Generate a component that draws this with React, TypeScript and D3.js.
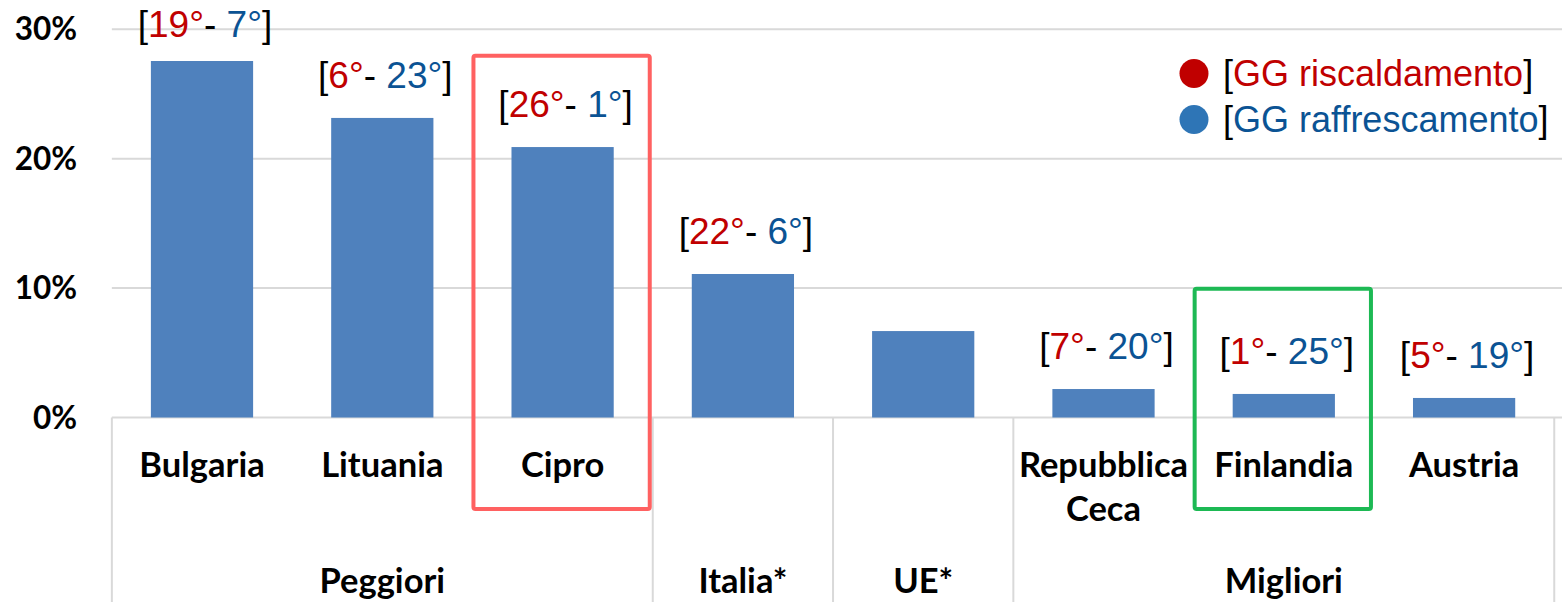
import React from "react";
import * as d3 from "d3";

const categories = ["Bulgaria", "Lituania", "Cipro", "Italia*", "UE*", "Repubblica Ceca", "Finlandia", "Austria"];
const values = [27.55, 23.15, 20.9, 11.09, 6.68, 2.2, 1.82, 1.51];
const heatingRank: (number | null)[] = [19, 6, 26, 22, null, 7, 1, 5];
const coolingRank: (number | null)[] = [7, 23, 1, 6, null, 20, 25, 19];
const groupNames = ["Peggiori", "Italia*", "UE*", "Migliori"];
const groupSizes = [3, 1, 1, 3];
const yTicks = [0, 10, 20, 30];
const legendItems = ["GG riscaldamento", "GG raffrescamento"];
const highlightWorst = "Cipro";
const highlightBest = "Finlandia";

const W = 1562;
const H = 602;
const RED = "#C00000";
const BLUE = "#0B5394";
const BAR = "#4F81BD";
const GRID = "#D9D9D9";
const CAT_FONT = "Lato, 'Open Sans', sans-serif";
const LBL_FONT = "'Liberation Sans', Arial, sans-serif";

export default function App() {
  const x = d3.scaleBand<string>().domain(categories).range([111.85, 1554.25]).padding(0);
  const y = d3.scaleLinear().domain([0, 30]).range([417.5, 29.3]);
  const bw = x.bandwidth();
  const barW = bw * 0.567;

  let acc = 0;
  const groups = groupNames.map((name, i) => {
    const start = acc;
    acc += groupSizes[i];
    const x0 = x(categories[start])!;
    const x1 = x(categories[start + groupSizes[i] - 1])! + bw;
    return { name, start, size: groupSizes[i], x0, x1 };
  });
  const showLevel1 = new Set<number>();
  groups.forEach((g) => {
    if (g.size > 1) for (let k = g.start; k < g.start + g.size; k++) showLevel1.add(k);
  });
  const separators = [groups[0].x0, ...groups.map((g) => g.x1)];

  const boxes = [
    { cat: highlightWorst, top: y(27.95), color: "#FF6161" },
    { cat: highlightBest, top: y(9.95), color: "#1DB954" },
  ];

  return (
    <svg width={W} height={H} style={{ position: "absolute", left: 0, top: 0, background: "#fff" }}>
      {yTicks.map((t) => (
        <line key={"g" + t} x1={x.range()[0]} x2={W} y1={y(t)} y2={y(t)} stroke={GRID} strokeWidth={2} />
      ))}
      {yTicks.map((t) => (
        <text key={"t" + t} x={77} y={y(t) + 11} textAnchor="end" fontFamily={CAT_FONT} fontWeight={700} fontSize={31.5} fill="#000">
          {t + "%"}
        </text>
      ))}
      {categories.map((c, i) => (
        <rect key={"b" + c} x={x(c)! + (bw - barW) / 2} y={y(values[i])} width={barW} height={y(0) - y(values[i])} fill={BAR} />
      ))}
      {separators.map((sx, i) => (
        <line key={"s" + i} x1={sx} x2={sx} y1={y(0)} y2={H} stroke={GRID} strokeWidth={2} />
      ))}
      {categories.map((c, i) => {
        if (!showLevel1.has(i)) return null;
        const words = c.length > 10 ? c.split(" ") : [c];
        return (
          <text key={"l1" + c} x={x(c)! + bw / 2} y={477} textAnchor="middle" fontFamily={CAT_FONT} fontWeight={700} fontSize={34.5} fill="#000">
            {words.map((w, k) => (
              <tspan key={k} x={x(c)! + bw / 2} dy={k === 0 ? 0 : 44}>
                {w}
              </tspan>
            ))}
          </text>
        );
      })}
      {groups.map((g) => (
        <text key={"l2" + g.name} x={(g.x0 + g.x1) / 2} y={593} textAnchor="middle" fontFamily={CAT_FONT} fontWeight={700} fontSize={34.5} fill="#000">
          {g.name}
        </text>
      ))}
      {categories.map((c, i) => {
        if (heatingRank[i] == null) return null;
        return (
          <text key={"r" + c} x={x(c)! + bw / 2 + 3} y={Math.max(y(values[i]) - 30, 37)} textAnchor="middle" fontFamily={LBL_FONT} fontSize={37} fill="#000">
            <tspan>[</tspan>
            <tspan fill={RED}>{heatingRank[i] + "°"}</tspan>
            <tspan>{"- "}</tspan>
            <tspan fill={BLUE}>{coolingRank[i] + "°"}</tspan>
            <tspan>]</tspan>
          </text>
        );
      })}
      {boxes.map((b) => (
        <rect key={"hb" + b.cat} x={x(b.cat)! + 1} y={b.top} width={bw - 4} height={509 - b.top} fill="none" stroke={b.color} strokeWidth={4} rx={2} />
      ))}
      {legendItems.map((l, i) => (
        <g key={"lg" + i} transform={`translate(1194, ${73.5 + i * 46})`}>
          <circle cx={0} cy={0} r={14.5} fill={i === 0 ? RED : "#2E75B6"} />
          <text x={29} y={12} fontFamily={LBL_FONT} fontSize={36} fill="#000">
            <tspan>[</tspan>
            <tspan fill={i === 0 ? RED : BLUE}>{l}</tspan>
            <tspan>]</tspan>
          </text>
        </g>
      ))}
    </svg>
  );
}
